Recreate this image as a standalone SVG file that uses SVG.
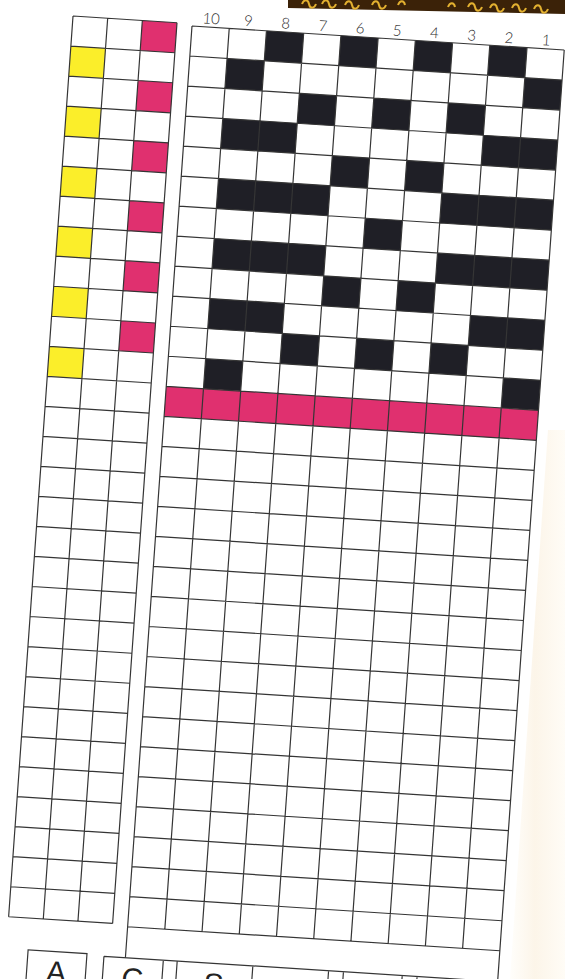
<svg xmlns="http://www.w3.org/2000/svg" width="565" height="979" viewBox="0 0 565 979">
<defs>
<linearGradient id="edge" x1="0" y1="0" x2="1" y2="0">
<stop offset="0" stop-color="#fffefb"/>
<stop offset="0.45" stop-color="#fcf5e9"/>
<stop offset="1" stop-color="#fffcf6"/>
</linearGradient>
</defs>
<style>
.g{fill:none;stroke:#353535;stroke-width:1.2}
.k{fill:#1f1f26}
.m{fill:#e0306f}
.y{fill:#fbee2a}
.n{font-family:Lato,"DejaVu Sans",sans-serif;font-weight:300;font-size:15px;fill:#2a2a2a;text-anchor:middle}
.b{font-family:"Liberation Sans",Arial,sans-serif;font-size:30px;fill:#222;text-anchor:middle}
</style>
<rect width="565" height="979" fill="#ffffff"/>
<polygon points="548,430 565,430 565,979 510,979" fill="url(#edge)"/>
<g id="band">
<polygon points="288,0 565,0 565,14 288,8" fill="#3b2208"/>
<path d="M302 4c2 -5 6 -5 7 0s5 5 7 0M322 4c2 -5 6 -5 7 0s5 5 7 0M345 5c2 -5 6 -5 7 0s5 5 7 0M372 5c2 -5 6 -5 7 0s5 5 7 0M398 5c2 -5 6 -5 7 0M448 7c2 -5 6 -5 7 0M468 7c2 -5 6 -5 7 0s5 5 7 0M490 8c2 -5 6 -5 7 0s5 5 7 0M512 8c2 -5 6 -5 7 0s5 5 7 0M534 9c2 -5 6 -5 7 0s5 5 7 0" fill="none" stroke="#e2b030" stroke-width="2"/>
</g>
<g transform="matrix(0.9979 0.0644 -0.0713 0.9975 192 26)">
<g id="left-chart" transform="translate(-119.4 -2.3)">
<rect class="m" x="69.47" y="0" width="34.73" height="30.1"/>
<rect class="m" x="69.47" y="60.2" width="34.73" height="30.1"/>
<rect class="m" x="69.47" y="120.4" width="34.73" height="30.1"/>
<rect class="m" x="69.47" y="180.6" width="34.73" height="30.1"/>
<rect class="m" x="69.47" y="240.8" width="34.73" height="30.1"/>
<rect class="m" x="69.47" y="301" width="34.73" height="30.1"/>
<rect class="y" x="0" y="30.1" width="34.73" height="30.1"/>
<rect class="y" x="0" y="90.3" width="34.73" height="30.1"/>
<rect class="y" x="0" y="150.5" width="34.73" height="30.1"/>
<rect class="y" x="0" y="210.7" width="34.73" height="30.1"/>
<rect class="y" x="0" y="270.9" width="34.73" height="30.1"/>
<rect class="y" x="0" y="331.1" width="34.73" height="30.1"/>
<path class="g" d="M0 0H104.2M0 30.1H104.2M0 60.2H104.2M0 90.3H104.2M0 120.4H104.2M0 150.5H104.2M0 180.6H104.2M0 210.7H104.2M0 240.8H104.2M0 270.9H104.2M0 301H104.2M0 331.1H104.2M0 361.2H104.2M0 391.3H104.2M0 421.4H104.2M0 451.5H104.2M0 481.6H104.2M0 511.7H104.2M0 541.8H104.2M0 571.9H104.2M0 602H104.2M0 632.1H104.2M0 662.2H104.2M0 692.3H104.2M0 722.4H104.2M0 752.5H104.2M0 782.6H104.2M0 812.7H104.2M0 842.8H104.2M0 872.9H104.2M0 903H104.2M0 0V903M34.73 0V903M69.47 0V903M104.2 0V903"/>
</g>
<g id="main-chart">
<rect class="k" x="74.6" y="0" width="37.3" height="30.1"/>
<rect class="k" x="149.2" y="0" width="37.3" height="30.1"/>
<rect class="k" x="223.8" y="0" width="37.3" height="30.1"/>
<rect class="k" x="298.4" y="0" width="37.3" height="30.1"/>
<rect class="k" x="37.3" y="30.1" width="37.3" height="30.1"/>
<rect class="k" x="335.7" y="30.1" width="37.3" height="30.1"/>
<rect class="k" x="111.9" y="60.2" width="37.3" height="30.1"/>
<rect class="k" x="186.5" y="60.2" width="37.3" height="30.1"/>
<rect class="k" x="261.1" y="60.2" width="37.3" height="30.1"/>
<rect class="k" x="37.3" y="90.3" width="74.6" height="30.1"/>
<rect class="k" x="298.4" y="90.3" width="74.6" height="30.1"/>
<rect class="k" x="149.2" y="120.4" width="37.3" height="30.1"/>
<rect class="k" x="223.8" y="120.4" width="37.3" height="30.1"/>
<rect class="k" x="37.3" y="150.5" width="111.9" height="30.1"/>
<rect class="k" x="261.1" y="150.5" width="111.9" height="30.1"/>
<rect class="k" x="186.5" y="180.6" width="37.3" height="30.1"/>
<rect class="k" x="37.3" y="210.7" width="111.9" height="30.1"/>
<rect class="k" x="261.1" y="210.7" width="111.9" height="30.1"/>
<rect class="k" x="149.2" y="240.8" width="37.3" height="30.1"/>
<rect class="k" x="223.8" y="240.8" width="37.3" height="30.1"/>
<rect class="k" x="37.3" y="270.9" width="74.6" height="30.1"/>
<rect class="k" x="298.4" y="270.9" width="74.6" height="30.1"/>
<rect class="k" x="111.9" y="301" width="37.3" height="30.1"/>
<rect class="k" x="186.5" y="301" width="37.3" height="30.1"/>
<rect class="k" x="261.1" y="301" width="37.3" height="30.1"/>
<rect class="k" x="37.3" y="331.1" width="37.3" height="30.1"/>
<rect class="k" x="335.7" y="331.1" width="37.3" height="30.1"/>
<rect class="m" x="0" y="361.2" width="373" height="30.1"/>
<path class="g" d="M0 0H373M0 30.1H373M0 60.2H373M0 90.3H373M0 120.4H373M0 150.5H373M0 180.6H373M0 210.7H373M0 240.8H373M0 270.9H373M0 301H373M0 331.1H373M0 361.2H373M0 391.3H373M0 421.4H373M0 451.5H373M0 481.6H373M0 511.7H373M0 541.8H373M0 571.9H373M0 602H373M0 632.1H373M0 662.2H373M0 692.3H373M0 722.4H373M0 752.5H373M0 782.6H373M0 812.7H373M0 842.8H373M0 872.9H373M0 903H373M0 0V934M37.3 0V903M74.6 0V903M111.9 0V903M149.2 0V903M186.5 0V903M223.8 0V903M261.1 0V903M298.4 0V903M335.7 0V903M373 0V1010"/>
</g>
<g id="numbers">
<text class="n" x="18.65" y="-3.5">10</text>
<text class="n" x="55.95" y="-3.5">9</text>
<text class="n" x="93.25" y="-3.5">8</text>
<text class="n" x="130.55" y="-3.5">7</text>
<text class="n" x="167.85" y="-3.5">6</text>
<text class="n" x="205.15" y="-3.5">5</text>
<text class="n" x="242.45" y="-3.5">4</text>
<text class="n" x="279.75" y="-3.5">3</text>
<text class="n" x="317.05" y="-3.5">2</text>
<text class="n" x="354.35" y="-3.5">1</text>
</g>
<g id="key-boxes">
<rect class="g" x="-97.6" y="932.5" width="59" height="80"/>
<path class="g" d="M-21.5 934H373M-21.5 934V1010M38 934V1010M51.9 934V1010M127.7 934V1010M203.6 934V1010M218.5 934V1010M277.4 934V1010M292.3 934V1010"/>
<text class="b" x="-68" y="963">A</text>
<text class="b" x="8.3" y="965">C</text>
<text class="b" x="89.8" y="965">S</text>
</g>
</g>
</svg>
